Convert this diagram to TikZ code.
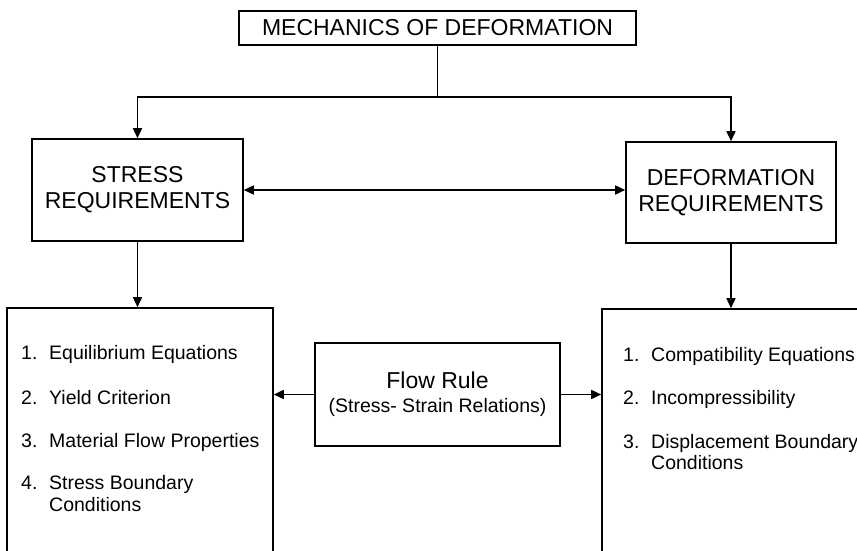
\documentclass[tikz,border=0pt]{standalone}
\usepackage{fontspec}
\setmainfont{Liberation Sans}
\usetikzlibrary{arrows.meta}
\tikzset{>={Triangle[length=10pt,width=9pt]}}
\tikzset{
  block/.style={draw, line width=1.6pt, inner sep=0pt, align=center,
    font=\fontsize{23}{26}\selectfont},
  listtext/.style={anchor=base west, inner sep=0pt,
    font=\fontsize{19.5}{22}\selectfont},
  link/.style={line width=1.6pt}
}

\begin{document}
\begin{tikzpicture}[x=1pt,y=-1pt]
  \useasboundingbox (0,0) rectangle (857,551);
  \clip (0,0) rectangle (857,551);
  % boxes
  \node[block, minimum width=397pt, minimum height=34pt] (mech) at (437.5,28) {MECHANICS OF DEFORMATION};
  \node[block, minimum width=211pt, minimum height=102pt] (stress) at (137.5,190) {STRESS\\REQUIREMENTS};
  \node[block, minimum width=210pt, minimum height=101pt] (deform) at (731,192.5) {DEFORMATION\\REQUIREMENTS};
  \node[block, minimum width=245pt, minimum height=103pt] (flow) at (437.5,394.5)
    {Flow Rule\\[-2pt]{\fontsize{19.5}{23}\selectfont (Stress- Strain Relations)}};
  \node[block, minimum width=266pt, minimum height=312pt] (stresslist) at (140,464) {};
  \node[block, minimum width=278pt, minimum height=312pt] (deformlist) at (741,465) {};
  % list items
  \foreach \num/\txt/\yy in {1/Equilibrium Equations/359, 2/Yield Criterion/404,
      3/Material Flow Properties/447, 4/Stress Boundary/489}
  {
    \node[listtext] (snum\num) at (21,\yy) {\num.};
    \node[listtext] (stxt\num) at (49,\yy) {\txt};
  }
  \node[listtext] (stxt5) at (49,511) {Conditions};
  \foreach \num/\txt/\yy in {1/Compatibility Equations/361, 2/Incompressibility/404,
      3/Displacement Boundary/448}
  {
    \node[listtext] (dnum\num) at (623,\yy) {\num.};
    \node[listtext] (dtxt\num) at (651,\yy) {\txt};
  }
  \node[listtext] (dtxt4) at (651,469) {Conditions};
  % connectors
  \coordinate (split) at (437.5,97);
  \draw[link] (mech) -- (split);
  \draw[link,->] (split) -| (stress.north);
  \draw[link,->] (split) -| (deform.north);
  \draw[link,<->] (stress.east) -- (stress.east -| deform.west);
  \draw[link,->] (stress.south) -- (stress.south |- stresslist.north);
  \draw[link,->] (deform.south) -- (deform.south |- deformlist.north);
  \draw[link,->] (flow.west) -- (flow.west -| stresslist.east);
  \draw[link,->] (flow.east) -- (flow.east -| deformlist.west);
\end{tikzpicture}
\end{document}
